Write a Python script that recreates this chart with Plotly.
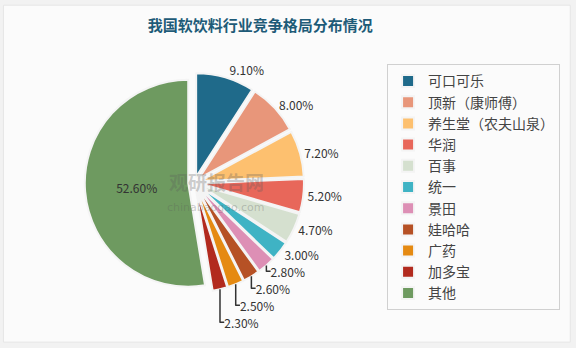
import plotly.graph_objects as go

labels = ["可口可乐", "顶新（康师傅）", "养生堂（农夫山泉）", "华润", "百事", "统一", "景田", "娃哈哈", "广药", "加多宝", "其他"]
values = [9.1, 8.0, 7.2, 5.2, 4.7, 3.0, 2.8, 2.6, 2.5, 2.3, 52.6]
colors = ["#1f6a8a", "#e8967a", "#fdc06f", "#e8675a", "#d5e0cf", "#3fb3c4",
          "#dd8fb5", "#b65125", "#e58a12", "#b22a1e", "#6e9a60"]

texts = [f"{v:.2f}%" for v in values]
positions = ["outside"] * 10 + ["inside"]

FONT = "Noto Sans CJK SC"

fig = go.Figure(go.Pie(
    labels=labels, values=values, sort=False, direction="clockwise", rotation=0,
    marker=dict(colors=colors, line=dict(color="#f4f4f4", width=2)),
    pull=[0.06] * 11,
    text=texts, textinfo="text", textposition=positions,
    textfont=dict(family=FONT, size=12, color="#333333"),
    insidetextorientation="horizontal",
    domain=dict(x=[0.145, 0.53], y=[0.16, 0.79]),
    hoverinfo="label+value",
))

fig.update_layout(
    width=576, height=348,
    margin=dict(l=0, r=0, t=0, b=0),
    paper_bgcolor="#f2f2f2",
    font=dict(family=FONT, color="#404040"),
    title=dict(text="<b>我国软饮料行业竞争格局分布情况</b>", x=0.452, xanchor="center",
               y=0.925, yanchor="middle",
               font=dict(family=FONT, size=15, color="#1e5b78")),
    legend=dict(x=0.672, xanchor="left", y=0.815, yanchor="top",
                bgcolor="rgba(0,0,0,0)", bordercolor="#d0d0d0", borderwidth=1,
                font=dict(family=FONT, size=14, color="#444444"),
                traceorder="normal", itemwidth=30),
    shapes=[dict(type="rect", xref="paper", yref="paper", x0=0.006, x1=0.99, y0=0.017, y1=0.985,
                 fillcolor="#fbfbfb", line=dict(color="#e6e6e6", width=1), layer="below")],
    annotations=[
        dict(text="<b>观研报告网</b>", x=0.375, y=0.478, xref="paper", yref="paper",
             showarrow=False, font=dict(family=FONT, size=19, color="rgba(90,90,90,0.3)")),
        dict(text="chinabaogao.com", x=0.375, y=0.403, xref="paper", yref="paper",
             showarrow=False, font=dict(family="DejaVu Sans", size=11, color="rgba(90,90,90,0.3)")),
    ],
)

fig.write_html("out.html")
